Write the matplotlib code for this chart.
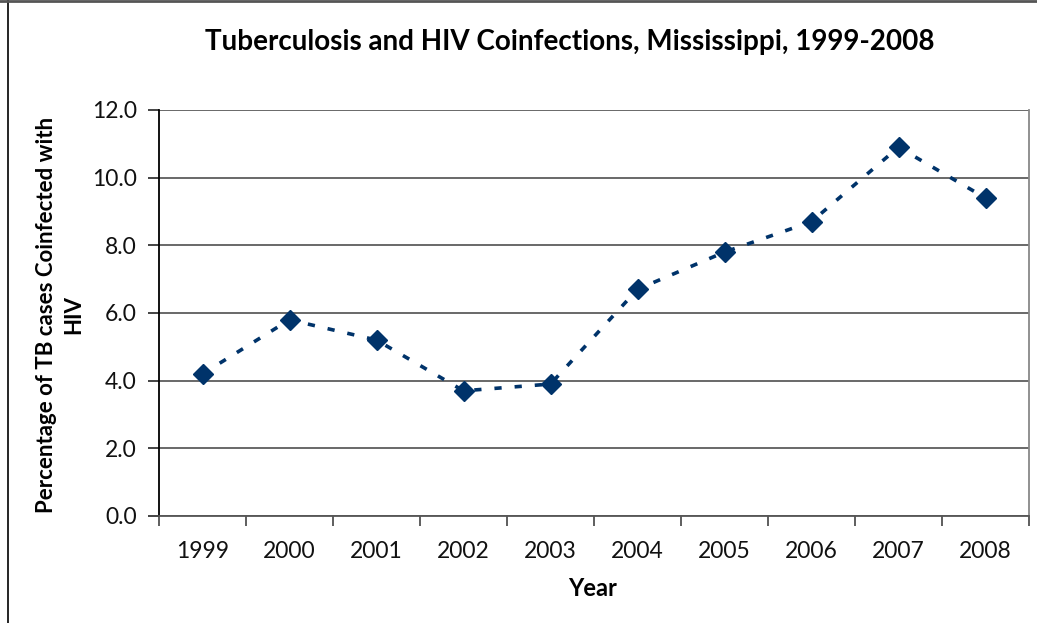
import matplotlib
matplotlib.use("Agg")
import matplotlib.pyplot as plt
from matplotlib.lines import Line2D
from matplotlib.ticker import FixedLocator, FormatStrFormatter

years = ["1999", "2000", "2001", "2002", "2003", "2004", "2005", "2006", "2007", "2008"]
pct_coinfected = [4.2, 5.8, 5.2, 3.7, 3.9, 6.7, 7.8, 8.7, 10.9, 9.4]

title = "Tuberculosis and HIV Coinfections, Mississippi, 1999-2008"
x_label = "Year"
y_label = "Percentage of TB cases Coinfected with\nHIV"

navy = "#00336A"
plt.rcParams["font.family"] = ["Lato", "DejaVu Sans"]

fig = plt.figure(figsize=(10.37, 6.23), dpi=100)
ax = fig.add_axes([159 / 1037, 1 - 516 / 623, 870 / 1037, 406 / 623])

xs = list(range(len(years)))

# dashed connecting line, then diamonds on top
ax.plot(xs, pct_coinfected, color=navy, linewidth=2.6,
        linestyle=(0, (2.0, 3.6)), dash_capstyle="butt", zorder=3)
ax.plot(xs, pct_coinfected, linestyle="none", marker="D", markersize=10.5,
        color=navy, markeredgecolor=navy, zorder=4)

ax.set_xlim(-0.5, len(years) - 0.5)
ax.set_ylim(0, 12)

ax.yaxis.set_major_locator(FixedLocator([0, 2, 4, 6, 8, 10, 12]))
ax.yaxis.set_major_formatter(FormatStrFormatter("%.1f"))
ax.grid(axis="y", color="#404040", linewidth=1.1)
ax.set_axisbelow(True)

ax.set_xticks(xs)
ax.set_xticklabels(years)
ax.set_xticks([i - 0.5 for i in range(len(years) + 1)], minor=True)
ax.tick_params(axis="x", which="major", length=0, pad=18, labelsize=16.5,
               labelcolor="#111111")
ax.tick_params(axis="x", which="minor", length=7, width=1.1, direction="out",
               color="#333333")
ax.tick_params(axis="y", length=8, width=1.1, direction="out", pad=8,
               labelsize=16.5, color="#111111", labelcolor="#111111")

ax.spines["top"].set_visible(False)
ax.spines["left"].set_color("#000000")
ax.spines["left"].set_linewidth(1.3)
ax.spines["bottom"].set_color("#555555")
ax.spines["bottom"].set_linewidth(1.3)
ax.spines["right"].set_color("#888888")
ax.spines["right"].set_linewidth(1.3)

fig.text(570 / 1037, 1 - 42 / 623, title, ha="center", va="center",
         fontsize=20, fontweight="bold", color="#000000")
fig.text(593 / 1037, 1 - 588 / 623, x_label, ha="center", va="center",
         fontsize=17, fontweight="bold", color="#000000")
fig.text(60 / 1037, 1 - 315 / 623, y_label, ha="center", va="center",
         rotation=90, fontsize=16, fontweight="bold", color="#000000",
         linespacing=1.4, multialignment="center")

# outer chart frame (left and top edges)
fig.add_artist(Line2D([8 / 1037, 8 / 1037], [0, 1], color="#000000",
                      linewidth=1.2, transform=fig.transFigure))
fig.add_artist(Line2D([0, 1], [1 - 1 / 623, 1 - 1 / 623], color="#555555",
                      linewidth=2.0, transform=fig.transFigure))

fig.savefig("out.png", dpi=100)
